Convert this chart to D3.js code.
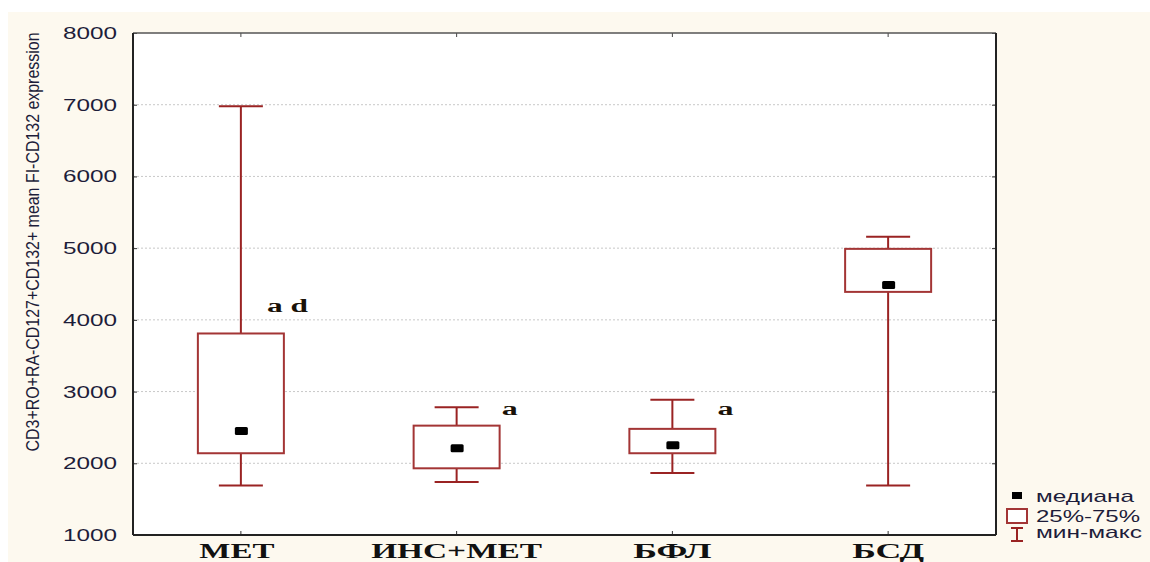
<!DOCTYPE html>
<html><head><meta charset="utf-8">
<script src="https://cdn.jsdelivr.net/npm/d3@7"></script>
<style>body{margin:0;background:#fff;}svg{display:block;}</style>
</head><body>
<svg id="c" width="1150" height="562"></svg>
<script>
const categories = ["МЕТ", "ИНС+МЕТ", "БФЛ", "БСД"];
const minVals    = [1690, 1740, 1865, 1690];
const q1Vals     = [2140, 1930, 2140, 4390];
const medianVals = [2450, 2210, 2250, 4485];
const q3Vals     = [3810, 2525, 2480, 4990];
const maxVals    = [6980, 2780, 2885, 5160];
const annotations = ["a d", "a", "a", ""];
const annotationY = [4110, 2670, 2670, 0];
const yTicks = [1000, 2000, 3000, 4000, 5000, 6000, 7000, 8000];
const legendLabels = ["медиана", "25%-75%", "мин-макс"];
const yTitle = "CD3+RO+RA-CD127+CD132+ mean FI-CD132 expression";

const svg = d3.select("#c");
const L = 133, R = 996, T = 33, B = 535;
const boxColor = "#a33535", whiskColor = "#9a2323", txtColor = "#1d1d3a";
const sans = "Liberation Sans, Arial, sans-serif", serif = "Liberation Serif, Times New Roman, serif";

svg.append("rect").attr("x", 8).attr("y", 12).attr("width", 1142).attr("height", 550).attr("fill", "#fdf9ef");
svg.append("rect").attr("x", L).attr("y", T).attr("width", R - L).attr("height", B - T).attr("fill", "#fff");

const x = d3.scaleBand().domain(categories).range([L, R]).padding(0);
const y = d3.scaleLinear().domain([1000, 8000]).range([B, T]);
const cx = c => x(c) + x.bandwidth() / 2;

// grid
svg.append("g").selectAll("line").data(yTicks.filter(t => t > 1000 && t < 8000)).join("line")
  .attr("x1", L).attr("x2", R).attr("y1", d => y(d)).attr("y2", d => y(d))
  .attr("stroke", "#c8c8c8").attr("stroke-width", 1).attr("stroke-dasharray", "2,2");

// axes
const yAxisL = d3.axisLeft(y).tickValues(yTicks).tickSize(-4).tickPadding(16).tickFormat(d3.format("d"));
const gL = svg.append("g").attr("transform", `translate(${L},0)`).call(yAxisL);
gL.select(".domain").remove();
gL.selectAll("line").attr("stroke", "#333");
gL.selectAll("text").attr("font-family", sans).attr("font-size", 17).attr("fill", txtColor)
  .attr("x", -16).attr("textLength", 54).attr("lengthAdjust", "spacingAndGlyphs");

const gR = svg.append("g").attr("transform", `translate(${R},0)`).call(d3.axisRight(y).tickValues(yTicks).tickSize(-4).tickFormat(""));
gR.select(".domain").remove(); gR.selectAll("line").attr("stroke", "#333");

const catWidths = [75, 171, 78, 72];
const gB = svg.append("g").attr("transform", `translate(0,${B})`).call(d3.axisBottom(x).tickSize(-4));
gB.select(".domain").remove(); gB.selectAll("line").attr("stroke", "#333");
gB.selectAll("text").attr("font-family", serif).attr("font-weight", "bold")
  .attr("font-size", 20).attr("fill", "#111").attr("y", 23).attr("dy", 0)
  .attr("x", (d, i) => i === 0 ? -4 : 0)
  .attr("textLength", (d, i) => catWidths[i]).attr("lengthAdjust", "spacingAndGlyphs");

const gT = svg.append("g").attr("transform", `translate(0,${T})`).call(d3.axisTop(x).tickSize(-4).tickFormat(""));
gT.select(".domain").remove(); gT.selectAll("line").attr("stroke", "#444");

// frame
svg.append("line").attr("x1", L).attr("x2", R).attr("y1", T).attr("y2", T).attr("stroke", "#555").attr("stroke-width", 1.5);
svg.append("line").attr("x1", R).attr("x2", R).attr("y1", T).attr("y2", B).attr("stroke", "#222").attr("stroke-width", 2);
svg.append("line").attr("x1", L).attr("x2", L).attr("y1", T).attr("y2", B).attr("stroke", "#222").attr("stroke-width", 2);
svg.append("line").attr("x1", L).attr("x2", R).attr("y1", B).attr("y2", B).attr("stroke", "#222").attr("stroke-width", 2);

// boxes
const data = categories.map((c, i) => ({c, min: minVals[i], q1: q1Vals[i], med: medianVals[i], q3: q3Vals[i], max: maxVals[i], ann: annotations[i], annY: annotationY[i]}));
const boxW = 86, capW = 44;
const g = svg.append("g").selectAll("g").data(data).join("g");
g.append("line").attr("x1", d => cx(d.c)).attr("x2", d => cx(d.c)).attr("y1", d => y(d.max)).attr("y2", d => y(d.q3)).attr("stroke", whiskColor).attr("stroke-width", 2);
g.append("line").attr("x1", d => cx(d.c)).attr("x2", d => cx(d.c)).attr("y1", d => y(d.q1)).attr("y2", d => y(d.min)).attr("stroke", whiskColor).attr("stroke-width", 2);
g.append("line").attr("x1", d => cx(d.c) - capW / 2).attr("x2", d => cx(d.c) + capW / 2).attr("y1", d => y(d.max)).attr("y2", d => y(d.max)).attr("stroke", whiskColor).attr("stroke-width", 2);
g.append("line").attr("x1", d => cx(d.c) - capW / 2).attr("x2", d => cx(d.c) + capW / 2).attr("y1", d => y(d.min)).attr("y2", d => y(d.min)).attr("stroke", whiskColor).attr("stroke-width", 2);
g.append("rect").attr("x", d => cx(d.c) - boxW / 2).attr("width", boxW).attr("y", d => y(d.q3)).attr("height", d => y(d.q1) - y(d.q3))
  .attr("fill", "#fff").attr("stroke", boxColor).attr("stroke-width", 2);
g.append("rect").attr("x", d => cx(d.c) - 6).attr("width", 13).attr("y", d => y(d.med) - 4).attr("height", 8).attr("rx", 1.5).attr("fill", "#000");
g.filter(d => d.ann).append("text")
  .attr("x", d => cx(d.c) + (d.ann.length > 1 ? 26 : 45)).attr("y", d => y(d.annY))
  .text(d => d.ann).attr("font-family", serif).attr("font-weight", "bold")
  .attr("font-size", 18).attr("fill", "#1a1208").attr("xml:space", "preserve")
  .attr("textLength", d => d.ann.length > 1 ? 41 : 16).attr("lengthAdjust", "spacingAndGlyphs");

// y title
svg.append("text").attr("transform", `translate(39,${(32 + 452) / 2}) rotate(-90)`).attr("text-anchor", "middle")
  .attr("font-family", sans).attr("font-size", 18).attr("fill", txtColor)
  .attr("textLength", 419).attr("lengthAdjust", "spacingAndGlyphs").text(yTitle);

// legend
const lg = svg.append("g");
const lx = 1017;
lg.append("rect").attr("x", lx - 5).attr("y", 492).attr("width", 10).attr("height", 7).attr("fill", "#000");
lg.append("rect").attr("x", lx - 10).attr("y", 509).attr("width", 20).attr("height", 14).attr("fill", "#fff").attr("stroke", boxColor).attr("stroke-width", 2);
lg.append("line").attr("x1", lx).attr("x2", lx).attr("y1", 528).attr("y2", 541).attr("stroke", whiskColor).attr("stroke-width", 2);
lg.append("line").attr("x1", lx - 6).attr("x2", lx + 6).attr("y1", 528).attr("y2", 528).attr("stroke", whiskColor).attr("stroke-width", 2);
lg.append("line").attr("x1", lx - 6).attr("x2", lx + 6).attr("y1", 541).attr("y2", 541).attr("stroke", whiskColor).attr("stroke-width", 2);
const legW = [98, 104, 106];
lg.selectAll("text").data(legendLabels).join("text").attr("x", 1036).attr("y", (d, i) => [502, 522, 538][i])
  .text(d => d).attr("font-family", sans).attr("font-size", 17).attr("fill", txtColor)
  .attr("textLength", (d, i) => legW[i]).attr("lengthAdjust", "spacingAndGlyphs");
</script>
</body></html>
